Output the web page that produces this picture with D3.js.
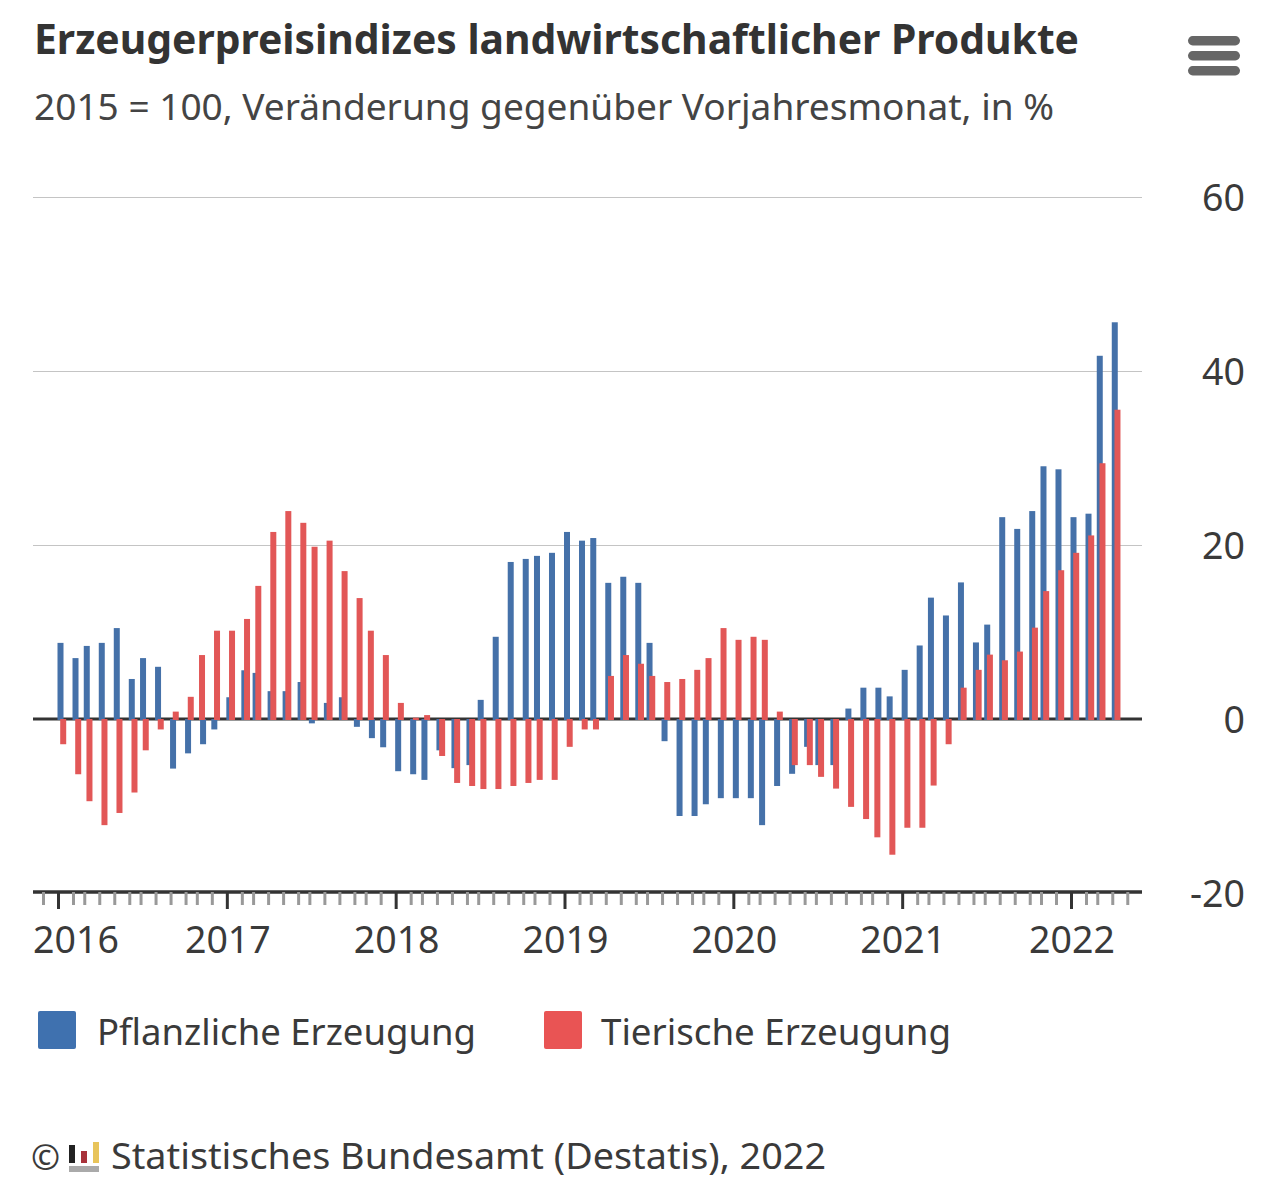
<!DOCTYPE html>
<html lang="de">
<head>
<meta charset="UTF-8">
<title>Erzeugerpreisindizes</title>
<style>
html, body { margin: 0; padding: 0; background: #fff; }
svg { display: block; }
text { font-family: "Noto Sans", sans-serif; fill: #3a3a3a; }
.grid line { stroke: #c4c4c4; stroke-width: 1.2; }
.grid path { display: none; }
.ylabels path, .ylabels line { display: none; }
.ylabels text { font-size: 37.5px; text-anchor: end; }
.xaxis path { stroke: #333; stroke-width: 3.5; }
.xaxis text { font-size: 37.5px; }
</style>
</head>
<body>
<div id="chart"></div>
<script src="https://d3js.org/d3.v7.min.js"></script>
<script>
var yearLabels = ["2016", "2017", "2018", "2019", "2020", "2021", "2022"];
var yTicks = [-20, 0, 20, 40, 60];

// monthly values, Jan 2016 to Apr 2022
var pflanzlich = [
    8.75, 7.0, 8.4, 8.75, 10.45, 4.6, 7.0, 6.0, -5.7, -3.95, -2.9, -1.2,
    2.5, 5.6, 5.3, 3.2, 3.2, 4.25, -0.5, 1.85, 2.5, -0.9, -2.2, -3.25,
    -6.0, -6.35, -7.0, -3.6, -5.65, -5.3, 2.2, 9.45, 18.05, 18.4, 18.75, 19.1,
    21.5, 20.5, 20.8, 15.65, 16.35, 15.65, 8.75, -2.55, -11.15, -11.15, -9.8, -9.1,
    -9.1, -9.1, -12.2, -7.7, -6.3, -3.2, -5.3, -5.3, 1.2, 3.6, 3.6, 2.6,
    5.65, 8.45, 13.95, 11.9, 15.7, 8.8, 10.85, 23.2, 21.85, 23.9, 29.05, 28.7,
    23.2, 23.6, 41.75, 45.6
];
var tierisch = [
    -2.9, -6.35, -9.45, -12.2, -10.8, -8.45, -3.6, -1.2, 0.85, 2.55, 7.35, 10.15,
    10.15, 11.5, 15.3, 21.5, 23.9, 22.55, 19.8, 20.5, 17.0, 13.9, 10.15, 7.35,
    1.85, 0.15, 0.45, -4.25, -7.35, -7.7, -8.05, -8.05, -7.7, -7.35, -7.0, -7.0,
    -3.2, -1.2, -1.2, 4.95, 7.35, 6.35, 4.95, 4.25, 4.6, 5.65, 7.0, 10.45,
    9.1, 9.45, 9.1, 0.85, -5.3, -5.3, -6.65, -8.0, -10.1, -11.5, -13.6, -15.6,
    -12.5, -12.5, -7.65, -2.9, 3.6, 5.65, 7.4, 6.75, 7.75, 10.5, 14.7, 17.1,
    19.1, 21.1, 29.4, 35.55
];
var legendItems = ["Pflanzliche Erzeugung", "Tierische Erzeugung"];

var width = 1280, height = 1202;
var left = 33, right = 1142;
var blue = "#4571a9", red = "#e25757";

var svg = d3.select("#chart").append("svg")
    .attr("width", width)
    .attr("height", height);

var y = d3.scaleLinear().domain([-20, 60]).range([893, 197]);

var x0 = 58.5, x1 = 1071.5;
var xMonth = d3.scaleLinear().domain([0, 72]).range([x0, x1]);
var xTime = d3.scaleTime()
    .domain([new Date(2016, 0, 1), new Date(2022, 0, 1)])
    .range([x0, x1]);

// the original sits on a coarse pixel grid, 45 steps per year
var step = (x1 - x0) / 270;
function snap(px) {
    return x0 + Math.ceil((px - x0) / step - 0.5 - 1e-6) * step;
}
function tickX(i) { return snap(xMonth(i)); }
function blueX(i) { return snap(xTime(new Date(2016, i, 1))) + 2; }
function redX(i) { return tickX(i) + 4.7; }

// title block
svg.append("text")
    .attr("x", 34).attr("y", 54)
    .attr("textLength", 1045).attr("lengthAdjust", "spacingAndGlyphs")
    .style("font-size", "42px").style("font-weight", 700).style("fill", "#333")
    .text("Erzeugerpreisindizes landwirtschaftlicher Produkte");
svg.append("text")
    .attr("x", 34).attr("y", 120)
    .attr("textLength", 1020).attr("lengthAdjust", "spacingAndGlyphs")
    .style("font-size", "36px").style("fill", "#444")
    .text("2015 = 100, Veränderung gegenüber Vorjahresmonat, in %");

// menu button
svg.selectAll(".menu")
    .data([36, 51, 66])
    .enter().append("rect")
    .attr("class", "menu")
    .attr("x", 1188).attr("y", function(d) { return d; })
    .attr("width", 52).attr("height", 9.5)
    .attr("rx", 4.7)
    .attr("fill", "#666");

// gridlines
svg.append("g")
    .attr("class", "grid")
    .attr("transform", "translate(" + left + ",0)")
    .call(d3.axisLeft(y).tickValues([20, 40, 60]).tickSize(left - right).tickFormat(""));

// y labels
svg.append("g")
    .attr("class", "ylabels")
    .attr("transform", "translate(1245,1)")
    .call(d3.axisRight(y).tickValues(yTicks).tickSize(0).tickPadding(0).tickFormat(String));

// zero line
svg.append("line")
    .attr("x1", left).attr("x2", right)
    .attr("y1", y(0)).attr("y2", y(0))
    .attr("stroke", "#333").attr("stroke-width", 3);

function drawBars(values, posX, color) {
    svg.append("g").selectAll("rect")
        .data(values)
        .enter().append("rect")
        .attr("x", function(d, i) { return posX(i) - 3; })
        .attr("y", function(d) { return y(Math.max(d, 0)); })
        .attr("width", 6)
        .attr("height", function(d) { return Math.abs(y(d) - y(0)) + (d > 0 ? 1 : 0); })
        .attr("fill", color);
}
drawBars(pflanzlich, blueX, blue);
drawBars(tierisch, redX, red);

// x axis: month ticks from Dec 2015 to May 2022
var tickIdx = d3.range(-1, 77);
var xAxisScale = d3.scaleOrdinal().domain(tickIdx).range(tickIdx.map(tickX));
var xAxis = d3.axisBottom(xAxisScale)
    .tickSize(13)
    .tickSizeOuter(0)
    .offset(0)
    .tickPadding(18)
    .tickFormat(function(d) { return d % 12 === 0 ? yearLabels[d / 12] : ""; });

var xg = svg.append("g")
    .attr("class", "xaxis")
    .attr("transform", "translate(0,892)")
    .call(xAxis);

xg.select(".domain").attr("d", "M" + left + ",0H" + right);
xg.selectAll(".tick line")
    .attr("stroke", function(d) { return d % 12 === 0 ? "#333" : "#999"; })
    .attr("stroke-width", 3)
    .attr("y2", function(d) { return d % 12 === 0 ? 17 : 13; });
// first label is pushed inside the plot
xg.selectAll(".tick text")
    .attr("dx", function(d) { return d === 0 ? 17.5 : 0.5; })
    .attr("dy", "0.8em");

// legend
var legend = svg.append("g").selectAll("g")
    .data(legendItems)
    .enter().append("g")
    .attr("transform", function(d, i) { return "translate(" + [38, 544][i] + ",1011)"; });
legend.append("rect")
    .attr("width", 38).attr("height", 38).attr("rx", 2)
    .attr("fill", function(d, i) { return i === 0 ? "#3f71af" : "#e95454"; });
legend.append("text")
    .attr("x", function(d, i) { return [59, 57][i]; })
    .attr("y", 34)
    .attr("textLength", function(d, i) { return [379, 350][i]; })
    .attr("lengthAdjust", "spacingAndGlyphs")
    .style("font-size", "36px")
    .text(function(d) { return d; });

// credits
svg.append("text")
    .attr("x", 31).attr("y", 1170)
    .style("font-size", "35px")
    .text("©");
var logo = svg.append("g").attr("transform", "translate(69,1142)");
logo.append("rect").attr("x", 0).attr("y", 3).attr("width", 6).attr("height", 18).attr("fill", "#222");
logo.append("rect").attr("x", 12).attr("y", 9).attr("width", 6).attr("height", 12).attr("fill", "#a8323a");
logo.append("rect").attr("x", 24).attr("y", 0).attr("width", 6).attr("height", 21).attr("fill", "#e8c45a");
logo.append("rect").attr("x", 0).attr("y", 24).attr("width", 30).attr("height", 6).attr("fill", "#aaa");
svg.append("text")
    .attr("x", 111).attr("y", 1169)
    .attr("textLength", 715).attr("lengthAdjust", "spacingAndGlyphs")
    .style("font-size", "36px")
    .text("Statistisches Bundesamt (Destatis), 2022");
</script>
</body>
</html>
